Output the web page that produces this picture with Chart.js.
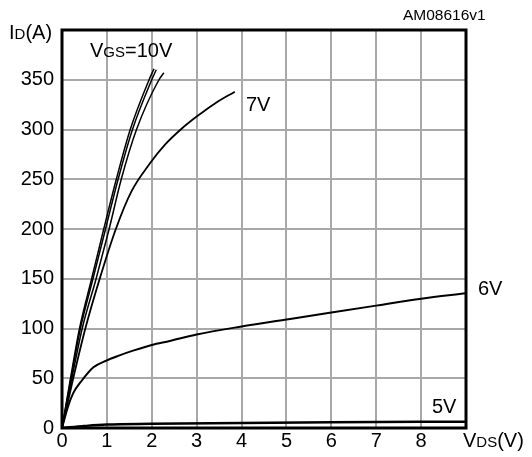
<!DOCTYPE html>
<html>
<head>
<meta charset="utf-8">
<script src="https://cdn.jsdelivr.net/npm/chart.js@4/dist/chart.umd.min.js"></script>
<style>
  body { margin: 0; background: #fff; }
  canvas { display: block; }
</style>
</head>
<body>
<canvas id="chart" width="532" height="457"></canvas>
<script>
// Output characteristics: ID (A) vs VDS (V) for several VGS
const vdsTicks = [0, 1, 2, 3, 4, 5, 6, 7, 8];
const idTicks = [0, 50, 100, 150, 200, 250, 300, 350];

// VGS = 10V group (three nearly overlapping traces)
const vgs10aVds = [0, 0.19, 0.39, 0.66, 0.93, 1.21, 1.52, 1.94, 2.05];
const vgs10aId  = [0, 50, 100, 150, 200, 250, 300, 350, 361];
const vgs10bVds = [0, 0.20, 0.41, 0.69, 0.97, 1.25, 1.57, 2.00, 2.10];
const vgs10bId  = [0, 50, 100, 150, 200, 250, 300, 350, 360];
const vgs10cVds = [0, 0.22, 0.45, 0.76, 1.05, 1.32, 1.66, 2.16, 2.27];
const vgs10cId  = [0, 50, 100, 150, 200, 250, 300, 350, 357];

const vgs7Vds = [0, 0.25, 0.52, 0.84, 1.20, 1.55, 1.96, 2.30, 2.67, 3.00, 3.40, 3.85];
const vgs7Id  = [0, 50, 100, 150, 200, 238, 266, 285, 301, 313, 326, 338];

const vgs6Vds = [0, 0.13, 0.25, 0.43, 0.70, 1.0, 1.25, 1.6, 2.0, 2.4, 3.0, 4.0, 5.0, 6.0, 7.0, 8.0, 9.0];
const vgs6Id  = [0, 21, 35, 47, 61, 68, 72.5, 78, 83.5, 87.5, 94, 102, 109, 116, 123, 130, 135.5];

const vgs5Vds = [0, 0.5, 1.0, 2.0, 4.0, 6.0, 9.0];
const vgs5Id  = [0, 2, 3.5, 4.2, 5.0, 5.8, 6.3];

const FONT = "'Liberation Sans', Arial, sans-serif";

function points(xs, ys) {
  return xs.map((x, i) => ({ x: x, y: ys[i] }));
}

function curve(xs, ys, width) {
  return {
    data: points(xs, ys),
    borderColor: '#000',
    borderWidth: width,
    pointRadius: 0,
    fill: false,
    cubicInterpolationMode: 'monotone'
  };
}

// mixed-size text such as I_D(A), drawn left to right from x
function drawParts(ctx, parts, x, y) {
  ctx.textBaseline = 'alphabetic';
  ctx.textAlign = 'left';
  ctx.fillStyle = '#000';
  parts.forEach(([txt, size]) => {
    ctx.font = size + 'px ' + FONT;
    ctx.fillText(txt, x, y);
    x += ctx.measureText(txt).width;
  });
}

const framePlugin = {
  id: 'frame',
  afterDraw(chart) {
    const ctx = chart.ctx;
    const a = chart.chartArea;
    ctx.save();
    ctx.strokeStyle = '#000';
    ctx.lineWidth = 3;
    ctx.strokeRect(a.left, a.top, a.right - a.left, a.bottom - a.top);

    drawParts(ctx, [['I', 20], ['D', 15], ['(A)', 20]], 9, 39);
    drawParts(ctx, [['V', 20], ['DS', 15], ['(V)', 20]], 463, 447);
    drawParts(ctx, [['V', 20], ['GS', 15], ['=10V', 20]], 90, 57);
    drawParts(ctx, [['7V', 20]], 246, 111);
    drawParts(ctx, [['6V', 20]], 478, 295);
    drawParts(ctx, [['5V', 20]], 432, 413);
    drawParts(ctx, [['AM08616v1', 15.5]], 403, 20);
    ctx.restore();
  }
};

new Chart(document.getElementById('chart'), {
  type: 'line',
  data: {
    datasets: [
      curve(vgs10aVds, vgs10aId, 1.5),
      curve(vgs10bVds, vgs10bId, 1.5),
      curve(vgs10cVds, vgs10cId, 1.5),
      curve(vgs7Vds, vgs7Id, 1.8),
      curve(vgs6Vds, vgs6Id, 2),
      curve(vgs5Vds, vgs5Id, 2.5)
    ]
  },
  options: {
    responsive: false,
    animation: false,
    layout: { padding: { top: 30, right: 66, left: 0, bottom: 0 } },
    plugins: {
      legend: { display: false },
      tooltip: { enabled: false }
    },
    scales: {
      x: {
        type: 'linear',
        min: 0,
        max: 9,
        afterFit(scale) { scale.height = 29; },
        border: { display: false },
        grid: { color: '#a8a8a8', lineWidth: 2, drawTicks: false },
        ticks: {
          stepSize: 1,
          padding: 1,
          color: '#000',
          font: { family: FONT, size: 20 },
          maxRotation: 0,
          callback: v => vdsTicks.includes(v) ? String(v) : ''
        }
      },
      y: {
        type: 'linear',
        min: 0,
        max: 400,
        afterFit(scale) { scale.width = 62; },
        border: { display: false },
        grid: { color: '#a8a8a8', lineWidth: 2, drawTicks: false },
        ticks: {
          stepSize: 50,
          padding: 8,
          color: '#000',
          font: { family: FONT, size: 20 },
          callback: v => idTicks.includes(v) ? String(v) : ''
        }
      }
    }
  },
  plugins: [framePlugin]
});
</script>
</body>
</html>
